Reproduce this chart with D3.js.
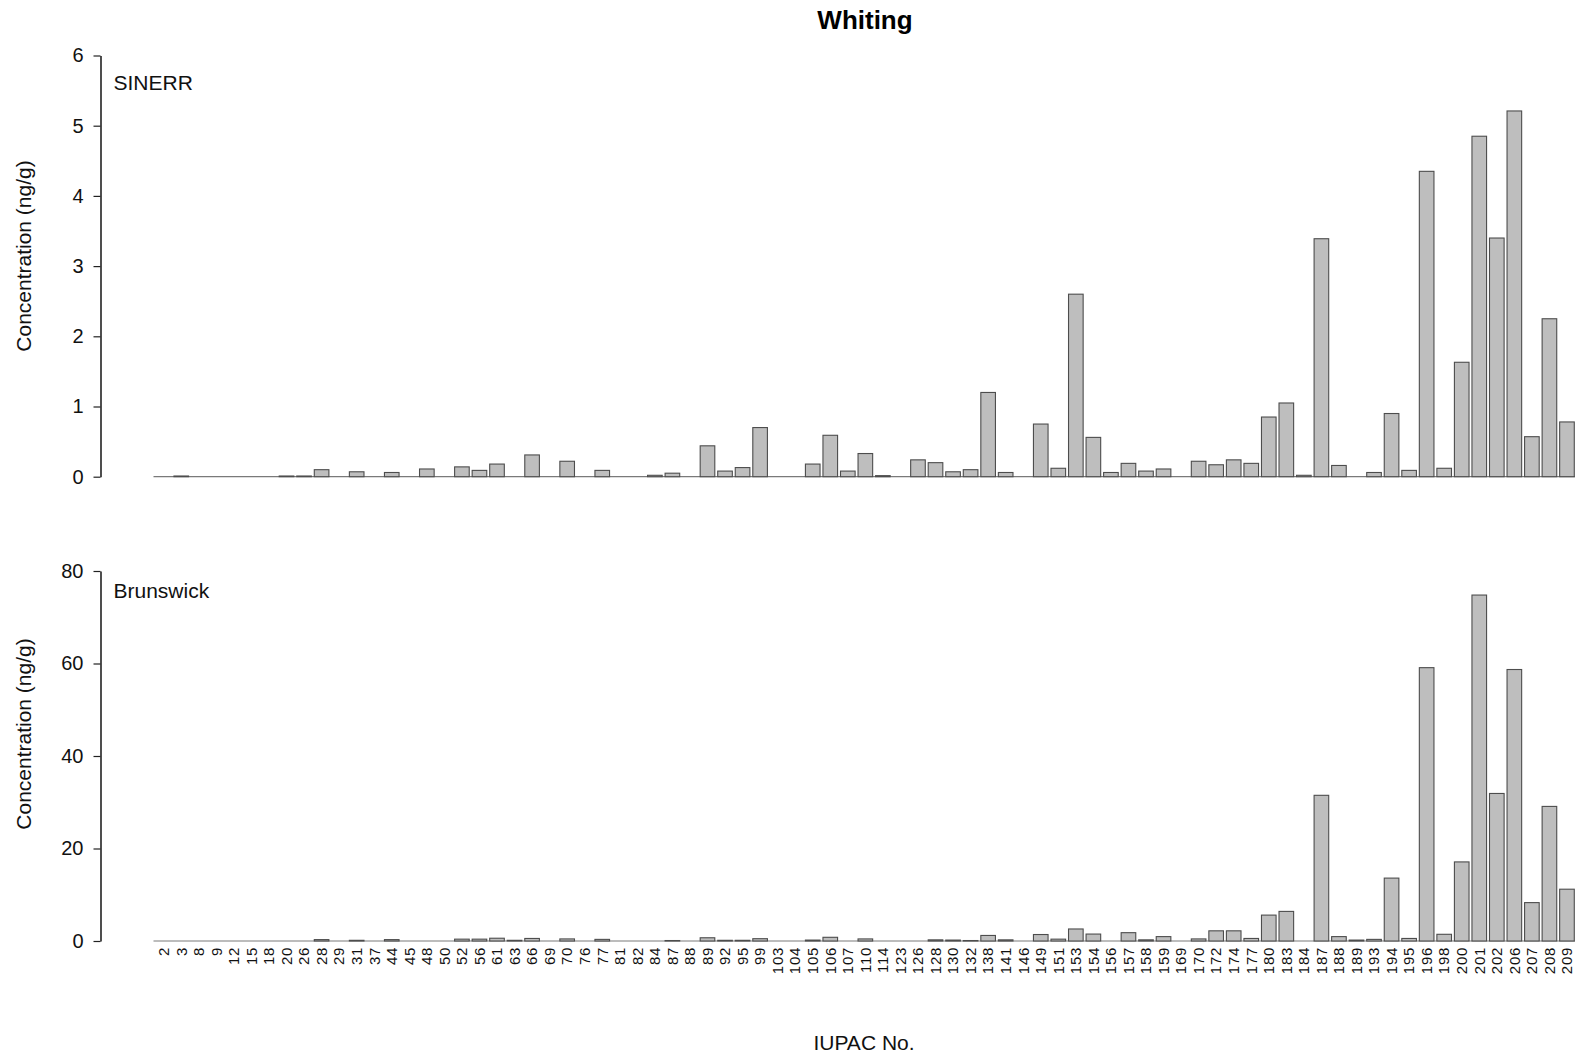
<!DOCTYPE html>
<html>
<head>
<meta charset="utf-8">
<script src="https://cdn.jsdelivr.net/npm/d3@7"></script>
<style>
  html, body { margin: 0; padding: 0; background: #fff; }
  svg { display: block; font-family: "Liberation Sans", Arial, Helvetica, sans-serif; }
</style>
</head>
<body>
<svg id="chart" width="1575" height="1055"></svg>
<script>
// PCB congeners (IUPAC numbers) measured in whiting
const iupac = [2,3,8,9,12,15,18,20,26,28,29,31,37,44,45,48,50,52,56,61,63,66,69,70,76,77,81,82,84,87,88,89,92,95,99,103,104,105,106,107,110,114,123,126,128,130,132,138,141,146,149,151,153,154,156,157,158,159,169,170,172,174,177,180,183,184,187,188,189,193,194,195,196,198,200,201,202,206,207,208,209];

// Concentrations (ng/g), SINERR site
const sinerr = [0,0.01,0,0,0,0,0,0.01,0.01,0.1,0,0.07,0,0.06,0,0.11,0,0.14,0.09,0.18,0,0.31,0,0.22,0,0.09,0,0,0.02,0.05,0,0.44,0.08,0.13,0.70,0,0,0.18,0.59,0.08,0.33,0.015,0,0.24,0.2,0.07,0.1,1.2,0.06,0,0.75,0.12,2.6,0.56,0.06,0.19,0.08,0.11,0,0.22,0.17,0.24,0.19,0.85,1.05,0.02,3.39,0.16,0,0.06,0.9,0.09,4.35,0.12,1.63,4.85,3.4,5.21,0.57,2.25,0.78];

// Concentrations (ng/g), Brunswick site
const brunswick = [0,0,0,0,0,0,0,0,0,0.3,0,0.15,0,0.3,0,0,0,0.4,0.4,0.6,0.15,0.55,0,0.45,0,0.35,0,0,0,0.1,0,0.7,0.15,0.15,0.5,0,0,0.2,0.8,0,0.45,0,0,0,0.25,0.2,0.1,1.2,0.25,0,1.4,0.4,2.6,1.5,0,1.8,0.25,0.95,0,0.45,2.2,2.2,0.55,5.6,6.4,0,31.5,0.95,0.2,0.35,13.6,0.55,59.1,1.45,17.1,74.8,31.9,58.7,8.3,29.1,11.2];

const sinerrTicks = [0,1,2,3,4,5,6];
const brunswickTicks = [0,20,40,60,80];

const svg = d3.select("#chart");

// shared category scale: bar width 1, gap 0.2 (barplot-style spacing)
const x = d3.scaleBand()
  .domain(iupac.map(String))
  .range([153.5, 1577.2])
  .paddingInner(1/6)
  .paddingOuter(1/6);

const panels = [
  { name: "SINERR", values: sinerr, ticks: sinerrTicks, max: 6,
    y0: 476.7, y1: 55.5, labelY: 90, titleY: 256 },
  { name: "Brunswick", values: brunswick, ticks: brunswickTicks, max: 80,
    y0: 941, y1: 571, labelY: 598, titleY: 734 }
];

panels.forEach(p => {
  const y = d3.scaleLinear().domain([0, p.max]).range([p.y0, p.y1]);
  const g = svg.append("g");

  // baseline
  g.append("line")
    .attr("x1", 153.5).attr("x2", 1575)
    .attr("y1", y(0)).attr("y2", y(0))
    .attr("stroke", "#7a7a7a").attr("stroke-width", 1.2);

  // bars
  g.selectAll("rect.bar")
    .data(iupac.map((k, i) => ({ k: String(k), v: p.values[i] })).filter(d => d.v > 0))
    .join("rect")
    .attr("class", "bar")
    .attr("x", d => x(d.k))
    .attr("width", x.bandwidth())
    .attr("y", d => y(d.v))
    .attr("height", d => y(0) - y(d.v))
    .attr("fill", "#bebebe")
    .attr("stroke", "#4d4d4d")
    .attr("stroke-width", 1.1);

  // y axis
  const ax = g.append("g")
    .attr("transform", "translate(100.5,0)")
    .call(d3.axisLeft(y).tickValues(p.ticks).tickFormat(d3.format("d"))
      .tickSize(7).tickPadding(10).tickSizeOuter(0));
  ax.select(".domain").attr("stroke", "#222").attr("stroke-width", 1.6);
  ax.selectAll(".tick line").attr("stroke", "#222").attr("stroke-width", 1.2);
  ax.selectAll(".tick text")
    .attr("fill", "#111")
    .style("font-size", "20px")
    .style("font-family", "'Liberation Sans', Arial, sans-serif");

  // y axis title
  g.append("text")
    .attr("transform", `translate(31,${p.titleY}) rotate(-90)`)
    .attr("text-anchor", "middle")
    .attr("fill", "#111")
    .style("font-size", "21px")
    .text("Concentration (ng/g)");

  // panel label
  g.append("text")
    .attr("x", 113.5).attr("y", p.labelY)
    .attr("fill", "#111")
    .style("font-size", "21px")
    .text(p.name);
});

// category labels under the lower panel
svg.append("g")
  .selectAll("text")
  .data(iupac)
  .join("text")
  .attr("transform", d => `translate(${x(String(d)) + x.bandwidth() / 2 + 5.3},947) rotate(-90)`)
  .attr("text-anchor", "end")
  .attr("fill", "#111")
  .style("font-size", "15px")
  .style("letter-spacing", "0.7px")
  .text(d => d);

// x axis title
svg.append("text")
  .attr("x", 864).attr("y", 1050)
  .attr("text-anchor", "middle")
  .attr("fill", "#111")
  .style("font-size", "21px")
  .text("IUPAC No.");

// chart title
svg.append("text")
  .attr("x", 865).attr("y", 29)
  .attr("text-anchor", "middle")
  .attr("fill", "#000")
  .style("font-size", "26px")
  .style("font-weight", "bold")
  .text("Whiting");
</script>
</body>
</html>
